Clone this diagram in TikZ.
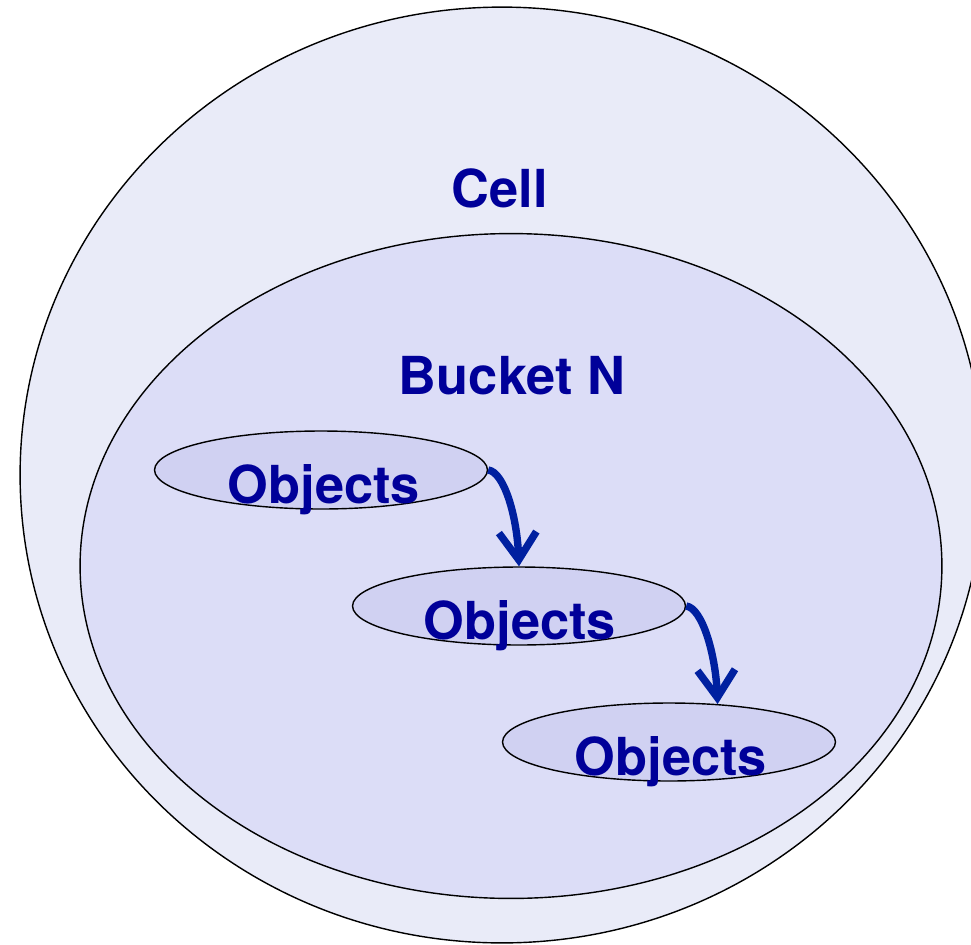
\documentclass[tikz,border=0pt]{standalone}
\usepackage{fontspec}
\setmainfont{TeX Gyre Heros}
\usetikzlibrary{arrows.meta,shapes.geometric,calc}
\definecolor{cellfill}{RGB}{233,235,248}
\definecolor{bucketfill}{RGB}{220,221,247}
\definecolor{objfill}{RGB}{208,209,242}
\definecolor{txtblue}{RGB}{0,0,153}
\definecolor{arrblue}{RGB}{0,32,160}
\begin{document}
\begin{tikzpicture}[x=0.02cm, y=-0.02cm,
    area/.style={ellipse, draw, line width=0.8pt, inner sep=0pt},
    cellbox/.style={area, fill=cellfill, minimum width=19.28cm, minimum height=18.72cm},
    bucket/.style={area, fill=bucketfill, minimum width=17.24cm, minimum height=13.3cm},
    obj/.style={area, fill=objfill, minimum width=6.66cm, minimum height=1.56cm},
    lbl/.style={anchor=base, inner sep=0pt, text=txtblue, font=\fontsize{29.8}{35}\selectfont\bfseries},
    arr/.style={-{Straight Barb[length=0.55cm, width=0.75cm]}, line width=4.2pt, arrblue}
]
\clip (0,0) rectangle (971,944);
\node[cellbox] (C) at (502,475) {};
\node[lbl] (Ct) at (500,207) {Cell};
\node[bucket] (B) at (511,566) {};
\node[lbl] (Bt) at (512,394) {Bucket N};

\node[obj] (o1) at (321,470) {};
\node[obj] (o2) at (519,606) {};
\node[obj] (o3) at (669,742) {};
\node[lbl] (t1) at ($(o1)+(3,33)$) {Objects};
\node[lbl] (t2) at ($(o2)+(1,33)$) {Objects};
\node[lbl] (t3) at ($(o3)+(2,33)$) {Objects};

\draw[arr] (o1.east) .. controls +(16,2) and +(-2,-50) .. (o2.north);
\draw[arr] (o2.east) .. controls +(16,2) and +(-2,-50) .. (o3.38);
\end{tikzpicture}
\end{document}
